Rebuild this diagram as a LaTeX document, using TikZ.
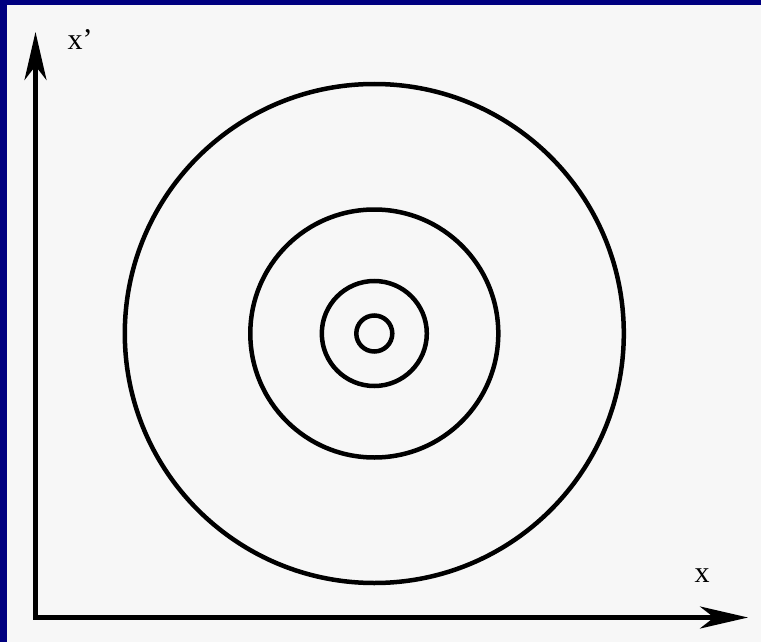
\documentclass[tikz,border=0pt]{standalone}
\usepackage{fontspec}
\setmainfont{Liberation Serif}
\usetikzlibrary{arrows.meta}
\definecolor{frame}{HTML}{000080}
\definecolor{paper}{HTML}{F7F7F7}
\begin{document}
\begin{tikzpicture}[x=1pt,y=-1pt,
  ring/.style={draw=black,line width=4.5pt},
  axis/.style={draw=black,line width=4.5pt,line join=miter,
    arrows={Stealth[length=48pt,width=22pt,inset=14pt]-Stealth[length=48pt,width=22pt,inset=14pt]}},
  lbl/.style={font=\fontsize{30}{36}\selectfont,inner sep=0pt}]
\useasboundingbox (0,0) rectangle (761,642);
\fill[paper] (0,0) rectangle (761,642);
\fill[frame] (0,0) rectangle (7.3,642);
\fill[frame] (0,0) rectangle (761,4.8);
\coordinate (c) at (374.3,333.5);
\draw[ring] (c) circle[radius=249.5];
\draw[ring] (c) circle[radius=124];
\draw[ring] (c) circle[radius=52.5];
\draw[ring] (c) circle[radius=18];
\coordinate (top) at (35.5,32);
\coordinate (corner) at (35.5,617.5);
\coordinate (right) at (748,617.5);
\draw[axis] (top) -- (corner) -- (right);
\node[lbl] (xp) at (80,40) {x'};
\node[lbl] (xl) at (702,576) {x};
\end{tikzpicture}
\end{document}
